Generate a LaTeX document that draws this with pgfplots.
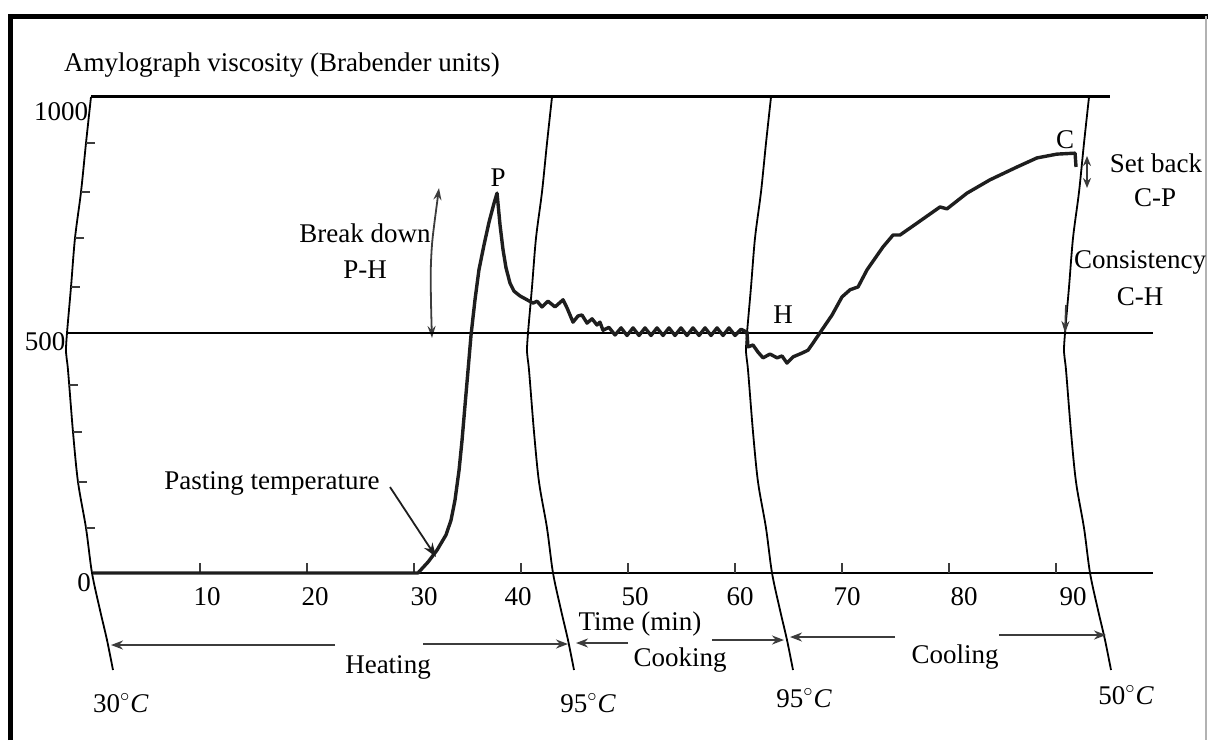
\documentclass[border=0pt]{standalone}
\usepackage{fontspec}
\setmainfont{Liberation Serif}
\usepackage{pgfplots}
\pgfplotsset{compat=1.18}
\usepackage{pgfplotstable}
\usetikzlibrary{arrows.meta}
\newcommand\fs{\fontsize{13.5}{16}\selectfont}
\newcommand\dc[1]{#1\textsuperscript{$\circ$}\textit{C}}
\definecolor{ink}{HTML}{1E1E1E}
\definecolor{grid}{HTML}{3C3C3C}
\pgfplotstableread{
dx y
91 97
86 143
81 192
75 238
71 287
67 333
66 352
68 370
73 432
78 482
86 528
92 573
100 610
107 640
113 670
}\arcshape
\begin{document}
\begin{tikzpicture}
\useasboundingbox (0,0) rectangle (604pt,370pt);
% ---------- pixel-coordinate overlay ----------
\begin{axis}[at={(0,0)},anchor=south west,scale only axis,width=604pt,height=370pt,
  xmin=0,xmax=1208,ymin=0,ymax=740,y dir=reverse,hide axis,clip=false]
\draw[line width=2.5pt,black] (10,740) -- (10,16) -- (1208,16);
\draw[line width=0.8pt,black!30] (1206,16) -- (1206,740);
\pgfplotsinvokeforeach{0,461,680,998}{
  \addplot[smooth,grid,line width=0.9pt] table[x expr=\thisrow{dx}+#1,y=y] {\arcshape};
}
% ticks on left arc
\draw[grid,line width=1.2pt] (86,143) -- (95,143);
\draw[grid,line width=1.2pt] (81,192) -- (90,192);
\draw[grid,line width=1.2pt] (75,238) -- (84,238);
\draw[grid,line width=1.2pt] (71,287) -- (80,287);
\draw[grid,line width=1.2pt] (69,385) -- (78,385);
\draw[grid,line width=1.2pt] (73,432) -- (82,432);
\draw[grid,line width=1.2pt] (78,482) -- (87,482);
\draw[grid,line width=1.2pt] (86,528) -- (95,528);
% texts
\node[font=\fs] at (282,65) {Amylograph viscosity (Brabender units)};
\node[font=\fs] at (61,112) {1000};
\node[font=\fs] at (45,342) {500};
\node[font=\fs] at (84,583) {0};
\node[font=\fs] at (207,597) {10};
\node[font=\fs] at (315,597) {20};
\node[font=\fs] at (424,597) {30};
\node[font=\fs] at (518,597) {40};
\node[font=\fs] at (635,597) {50};
\node[font=\fs] at (740,597) {60};
\node[font=\fs] at (847,597) {70};
\node[font=\fs] at (964,597) {80};
\node[font=\fs] at (1073,597) {90};
\node[font=\fs] at (640,624) {Time (min)};
\node[font=\fs] at (498,178) {P};
\node[font=\fs] at (365,233) {Break down};
\node[font=\fs] at (365,270) {P-H};
\node[font=\fs] at (783,315) {H};
\node[font=\fs] at (1065,140) {C};
\node[font=\fs] at (1156,163) {Set back};
\node[font=\fs] at (1155,198) {C-P};
\node[font=\fs] at (1140,262) {Consistency};
\node[font=\fs] at (1140,297) {C-H};
\node[font=\fs] at (272,483) {Pasting temperature};
\node[font=\fs] at (388,667) {Heating};
\node[font=\fs] at (680,660) {Cooking};
\node[font=\fs] at (955,657) {Cooling};
\node[font=\fs] at (121,703) {\dc{30}};
\node[font=\fs] at (588,703) {\dc{95}};
\node[font=\fs] at (804,698) {\dc{95}};
\node[font=\fs] at (1126,695) {\dc{50}};
% arrows
\draw[ink,line width=0.9pt,-{Stealth[length=7pt,width=5pt]}] (390,487) -- (436,557);
\draw[grid,line width=0.9pt,{Stealth[length=6pt,width=4pt]}-{Stealth[length=6pt,width=4pt]}]
  plot[smooth] coordinates {(439,188) (431,262) (432,338)};
\draw[grid,line width=0.9pt,{Stealth[length=5pt,width=4pt]}-{Stealth[length=5pt,width=4pt]}]
  (1087,156) -- (1087,188);
\draw[grid,line width=0.9pt,-{Stealth[length=6pt,width=4pt]}] (1066,305) -- (1065,333);
\draw[grid,line width=1.3pt,-{Stealth[length=6pt,width=4.5pt]}] (335,645) -- (111,645);
\draw[grid,line width=1.3pt,-{Stealth[length=6pt,width=4.5pt]}] (423,644) -- (568,644);
\draw[grid,line width=1.3pt,-{Stealth[length=6pt,width=4.5pt]}] (628,643) -- (576,643);
\draw[grid,line width=1.3pt,-{Stealth[length=6pt,width=4.5pt]}] (712,640) -- (784,640);
\draw[grid,line width=1.3pt,-{Stealth[length=6pt,width=4.5pt]}] (895,637) -- (790,637);
\draw[grid,line width=1.3pt,-{Stealth[length=6pt,width=4.5pt]}] (999,635) -- (1106,635);
\end{axis}
% ---------- data axis (minutes, Brabender units) ----------
\begin{axis}[at={(0,0)},anchor=south west,scale only axis,width=604pt,height=370pt,
  xmin=-8.6916,xmax=104.2056,ymin=-350.84,ymax=1203.78,hide axis,clip=false]
\addplot[grid,line width=1.5pt] coordinates {(-0.19,1000) (95.05,1000)};
\addplot[grid,line width=1.2pt] coordinates {(-2.43,504) (99.07,504)};
\addplot[grid,line width=1.4pt] coordinates {(0,0) (99.07,0)};
\pgfplotsinvokeforeach{10,20,...,90}{
  \draw[grid,line width=1.2pt] (#1,0) -- (#1,21);
}
\addplot[ink,line width=1.7pt,line join=round] coordinates {
(0,0) (30.37,0) (31.31,23) (32.15,48) (32.99,80) (33.46,111) (33.83,153) (34.21,216)
(34.49,279) (34.77,353) (35.05,426) (35.33,500) (35.70,574) (36.07,637) (36.54,689)
(37.01,737) (37.48,777) (37.76,798) (38.04,731) (38.32,679) (38.60,641) (38.97,609)
(39.35,592) (39.91,582) (40.56,574) (41.12,567) (41.50,571) (41.96,559) (42.52,571)
(43.18,559) (43.93,574) (44.30,557) (44.86,527) (45.33,540) (45.70,542) (46.17,525)
(46.64,534) (47.10,521) (47.38,527) (47.66,510) (48.22,516) (48.79,500) (49.35,515)
(49.91,499) (50.47,515) (51.03,499) (51.59,515) (52.15,499) (52.71,515) (53.27,499)
(53.83,515) (54.39,499) (54.95,515) (55.51,499) (56.07,515) (56.64,499) (57.20,515)
(57.76,499) (58.32,515) (58.88,499) (59.44,515) (60.00,499) (60.56,512) (61.12,506)
(61.21,475) (61.68,479) (62.15,464) (62.62,452) (63.27,460) (63.93,452) (64.39,456)
(64.86,441) (65.42,454) (66.26,462) (66.82,468) (67.29,483) (68.13,511) (69.07,542)
(70.00,580) (70.75,595) (71.50,601) (72.34,637) (73.83,685) (74.77,710) (75.42,710)
(77.01,735) (79.16,769) (79.81,765) (81.68,798) (83.83,826) (86.36,853) (88.22,872)
(90.09,880) (91.78,882) (91.87,853)};
\end{axis}
\end{tikzpicture}
\end{document}
